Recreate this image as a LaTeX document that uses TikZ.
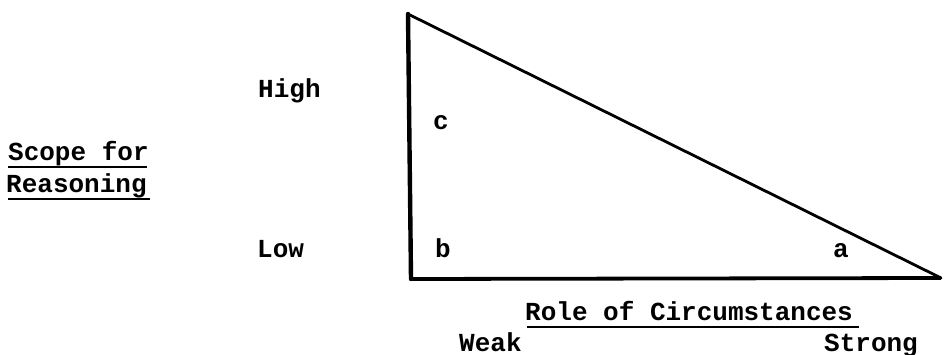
\documentclass[tikz,border=0pt]{standalone}
\usepackage{fontspec}
\setmonofont{Liberation Mono}
\begin{document}
\begin{tikzpicture}[x=1pt,y=-1pt,
  txt/.style={font=\ttfamily\bfseries\fontsize{26}{26}\selectfont, inner sep=0pt, anchor=base west},
  uline/.style={line width=2pt},
  thick side/.style={line width=4.4pt, line cap=round, line join=round},
  hyp/.style={line width=2.8pt, line cap=round}]
\useasboundingbox (0,0) rectangle (944,355);
\coordinate (T) at (408,14);
\coordinate (BL) at (411,279);
\coordinate (R) at (941,278);
\draw[thick side] (T) -- (BL);
\draw[line width=3.8pt] (BL) -- (R);
\draw[hyp] (T) -- (R);
\node[txt] (high) at (258,98) {High};
\node[txt] (low) at (257,257) {Low};
\node[txt] (scope) at (8,161) {Scope for};
\node[txt] (reason) at (6,193) {Reasoning};
\node[txt] (c) at (433,130) {c};
\node[txt] (b) at (435,257) {b};
\node[txt] (a) at (833,257) {a};
\node[txt] (role) at (525,320) {Role of Circumstances};
\node[txt] (weak) at (459,351) {Weak};
\node[txt] (strong) at (824,351) {Strong};
\coordinate (s1) at (8,167); \coordinate (s2) at (147,167);
\coordinate (r1) at (8,199); \coordinate (r2) at (150,199);
\coordinate (o1) at (527,327); \coordinate (o2) at (859,327);
\draw[uline] (s1) -- (s2);
\draw[uline] (r1) -- (r2);
\draw[uline] (o1) -- (o2);
\end{tikzpicture}
\end{document}
